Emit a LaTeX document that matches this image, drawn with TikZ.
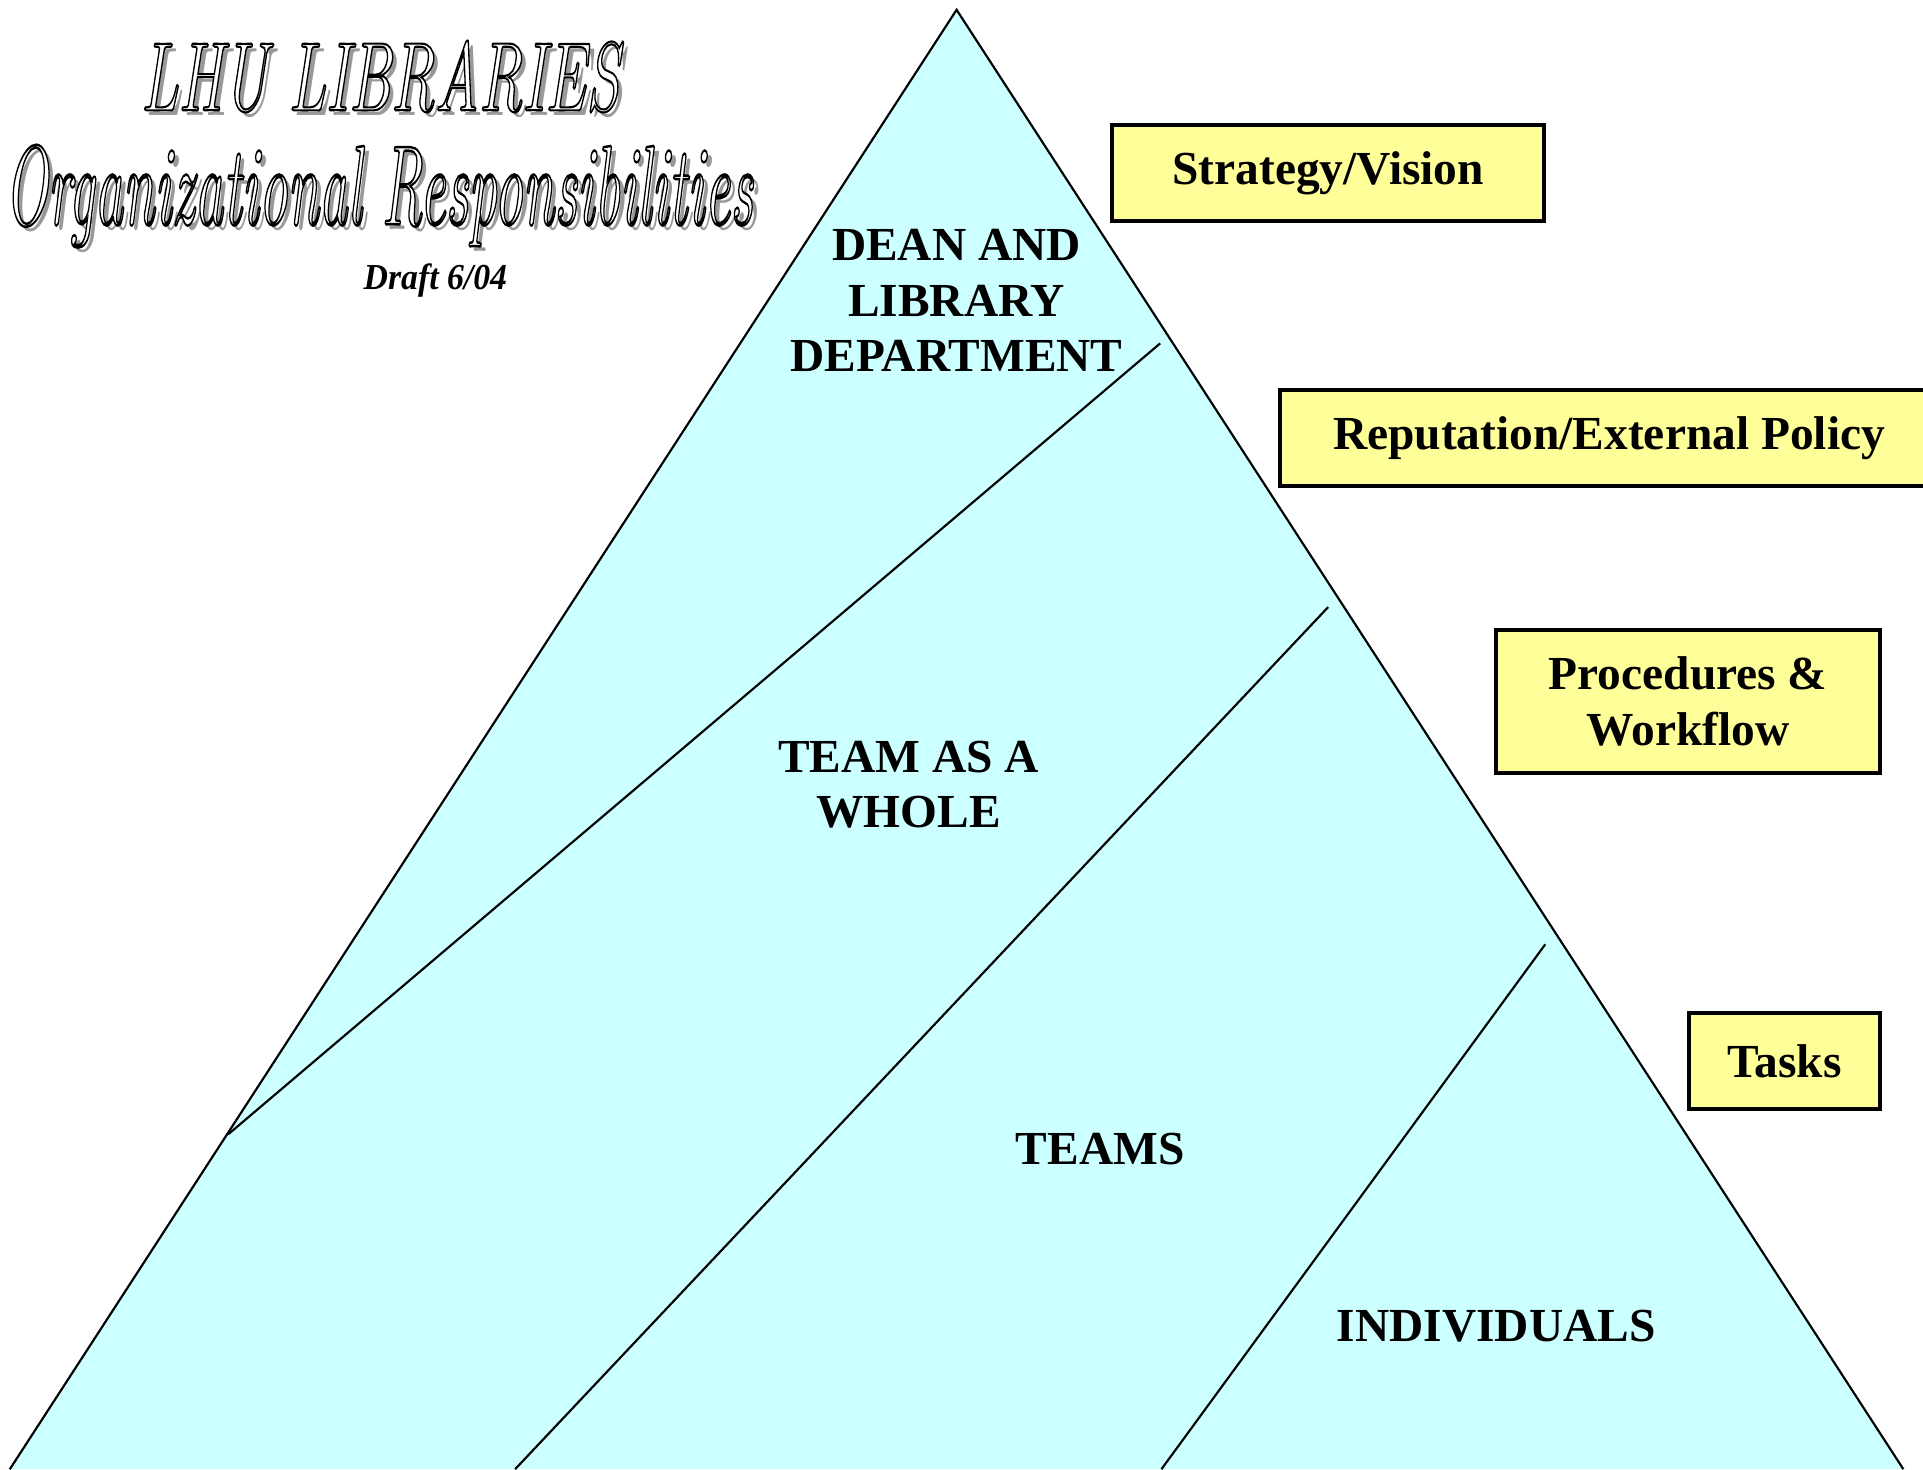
\documentclass[tikz,border=0pt]{standalone}
\usepackage{fontspec}
\setmainfont{Liberation Serif}
\newfontfamily\titlefont{Latin Modern Roman}
\usepackage{graphicx}
\usetikzlibrary{positioning}

\definecolor{pyramidcyan}{HTML}{CCFFFF}
\definecolor{boxyellow}{HTML}{FFFF99}

% hollow letters for the heading
\newcommand{\hollow}[1]{\special{pdf:literal direct 2 Tr 0.22 w 1 g 0 G}#1\special{pdf:literal direct 0 Tr 0 g 0 G}}

\tikzset{
  side/.style={line width=0.5pt, line join=miter},
  levelbox/.style={draw, line width=0.9pt, fill=boxyellow, align=center, inner sep=0pt,
    font=\fontsize{11}{12.8}\selectfont\bfseries},
  level/.style={align=center, font=\fontsize{11}{12.8}\selectfont\bfseries},
  shadowtext/.style={anchor=base, inner sep=0pt, text=black!40},
  headtext/.style={anchor=base, inner sep=0pt},
}

\begin{document}
\begin{tikzpicture}[x=0.1mm, y=-0.1mm]
  \useasboundingbox (0,0) rectangle (1568,1198);
  \clip (0,0) rectangle (1568,1198);

  % Pyramid
  \coordinate (apex) at (780,8);
  \coordinate (baseL) at (8,1198);
  \coordinate (baseR) at (1552,1198);
  \fill[pyramidcyan] (baseL) -- (apex) -- (baseR) -- cycle;
  \draw[side] (baseL) -- (apex) -- (baseR);

  % Dividers
  \coordinate (d1a) at (186,925);
  \coordinate (d1b) at (946,280);
  \coordinate (d2a) at (420,1198);
  \coordinate (d2b) at (1083,495);
  \coordinate (d3a) at (947,1198);
  \coordinate (d3b) at (1260,770);
  \draw[side] (d1a) -- (d1b);
  \draw[side] (d2a) -- (d2b);
  \draw[side] (d3a) -- (d3b);

  % Levels
  \node[level] (dean) at (780,245) {DEAN AND\\LIBRARY\\DEPARTMENT};
  \node[level] (whole) at (741,640) {TEAM AS A\\WHOLE};
  \node[level] (teams) at (897,937) {TEAMS};
  \node[level] (individuals) at (1220,1081) {INDIVIDUALS};

  % Responsibilities
  \node[levelbox, minimum width=3.52cm, minimum height=0.78cm] (strategy) at (1083,141) {Strategy/Vision};
  \node[levelbox, minimum width=5.36cm, minimum height=0.78cm] (reputation) at (1312,357) {Reputation/External Policy};
  \node[levelbox, minimum width=3.13cm, minimum height=1.17cm] (procedures) at (1376.5,572) {Procedures \&\\Workflow};
  \node[levelbox, minimum width=1.56cm, minimum height=0.78cm] (tasks) at (1455,865) {Tasks};

  % Heading
  \node[shadowtext] (lhushadow) at (314,94) {\resizebox{3.9cm}{0.57cm}{\titlefont\itshape LHU LIBRARIES}};
  \node[headtext] (lhu) at (310,90) {\resizebox{3.9cm}{0.57cm}{\titlefont\itshape\hollow{LHU LIBRARIES}}};
  \node[shadowtext] (orgshadow) at (313,187) {\resizebox{6.1cm}{0.65cm}{\titlefont\itshape Organizational Responsibilities}};
  \node[headtext] (org) at (309,183) {\resizebox{6.1cm}{0.65cm}{\titlefont\itshape\hollow{Organizational Responsibilities}}};
  \node[headtext] (draft) at (355,236) {\resizebox{1.17cm}{0.21cm}{\bfseries\itshape Draft 6/04}};
\end{tikzpicture}
\end{document}
